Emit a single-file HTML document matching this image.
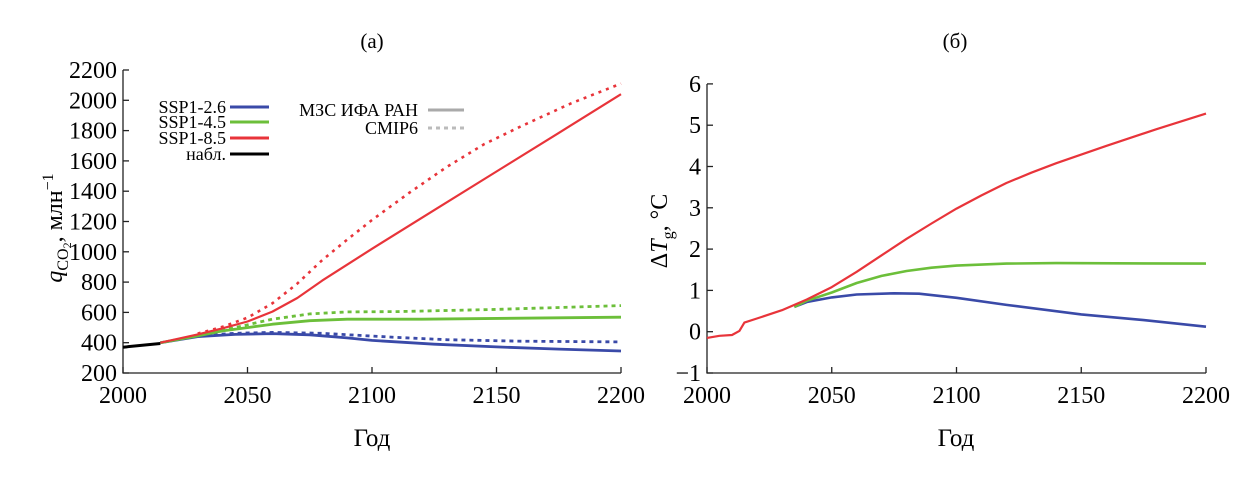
<!DOCTYPE html>
<html><head><meta charset="utf-8"><style>
html,body{margin:0;padding:0;background:#fff;}
svg{display:block;font-family:"Liberation Serif",serif;}
</style></head><body>
<svg id="s" width="1259" height="481" viewBox="0 0 1259 481" xmlns="http://www.w3.org/2000/svg">
<text x="372" y="48" font-size="21" text-anchor="middle">(a)</text>
<text x="955" y="48" font-size="21" text-anchor="middle">(б)</text>
<g id="L" stroke="#222" stroke-width="1.3" fill="none"></g>
<g id="R" stroke="#222" stroke-width="1.3" fill="none"></g>
<g font-size="24" id="T"></g>
<text x="372" y="446" font-size="25" text-anchor="middle">Год</text>
<text x="956" y="446" font-size="25" text-anchor="middle">Год</text>
<text transform="translate(62,228) rotate(-90)" font-size="24" text-anchor="middle"><tspan font-style="italic">q</tspan><tspan font-size="16" dy="6">CO</tspan><tspan font-size="12" dy="3">2</tspan><tspan dy="-9">, млн</tspan><tspan font-size="16" dy="-9">−1</tspan></text>
<text transform="translate(667,231) rotate(-90)" font-size="24" text-anchor="middle">Δ<tspan font-style="italic">T</tspan><tspan font-size="16" dy="6">g</tspan><tspan dy="-6">, °C</tspan></text>
<g font-size="18" text-anchor="end">
<text x="226" y="113">SSP1-2.6</text>
<text x="226" y="128">SSP1-4.5</text>
<text x="226" y="144">SSP1-8.5</text>
<text x="226" y="160">набл.</text>
<text x="418" y="116">МЗС ИФА РАН</text>
<text x="418" y="134">CMIP6</text>
</g>
<g stroke-width="3">
<line x1="230" y1="107" x2="269" y2="107" stroke="#3a4aa8"/>
<line x1="230" y1="122" x2="269" y2="122" stroke="#6cbf3a"/>
<line x1="230" y1="138" x2="269" y2="138" stroke="#e8343a"/>
<line x1="230" y1="154" x2="269" y2="154" stroke="#000"/>
<line x1="428" y1="110" x2="464" y2="110" stroke="#aaa"/>
<line x1="428" y1="128" x2="464" y2="128" stroke="#bbb" stroke-dasharray="4,4"/>
</g>
<g id="C" fill="none" stroke-linejoin="round"></g>
</svg>
<script>
var NS="http://www.w3.org/2000/svg",s=document.getElementById('s');
function el(p,t,a,txt){var e=document.createElementNS(NS,t);for(var k in a)e.setAttribute(k,a[k]);if(txt!==undefined)e.textContent=txt;document.getElementById(p).appendChild(e);return e;}
var lx=function(y){return 123+(y-2000)*2.49},ly=function(v){return 373-(v-200)*0.1515};
var rx=function(y){return 707+(y-2000)*2.495},ry=function(v){return 373-(v+1)*41.3};
el('L','path',{d:'M123,70 L123,373 L621,373'});
for(var v=200;v<=2200;v+=200){var y=ly(v);el('L','line',{x1:123,y1:y,x2:129,y2:y});el('T','text',{x:117,y:y+8,'text-anchor':'end'},v);}
for(var yr=2000;yr<=2200;yr+=50){var x=lx(yr);el('L','line',{x1:x,y1:373,x2:x,y2:367});el('T','text',{x:x,y:403,'text-anchor':'middle'},yr);}
el('R','path',{d:'M707,84 L707,373 L1206,373'});
for(var v=-1;v<=6;v++){var y=ry(v);el('R','line',{x1:707,y1:y,x2:713,y2:y});el('T','text',{x:701,y:y+8,'text-anchor':'end'},v<0?'−1':v);}
for(var yr=2000;yr<=2200;yr+=50){var x=rx(yr);el('R','line',{x1:x,y1:373,x2:x,y2:367});el('T','text',{x:x,y:403,'text-anchor':'middle'},yr);}
function line(pts,fx,fy,col,w,dash){var d=pts.map(function(p,i){return (i?'L':'M')+fx(p[0]).toFixed(1)+','+fy(p[1]).toFixed(1)}).join(' ');var a={d:d,stroke:col,'stroke-width':w};if(dash)a['stroke-dasharray']=dash;el('C','path',a);}
var B='#3a4aa8',G='#6cbf3a',Rd='#e8343a';
line([[2015,400],[2030,440],[2045,455],[2060,460],[2075,452],[2090,432],[2100,415],[2125,390],[2150,372],[2175,358],[2200,345]],lx,ly,B,2.8);
line([[2030,445],[2045,462],[2060,468],[2080,462],[2095,448],[2110,435],[2130,420],[2160,410],[2200,405]],lx,ly,B,2.8,'4,4');
line([[2015,400],[2030,445],[2040,478],[2050,500],[2060,522],[2075,545],[2090,555],[2120,555],[2200,568]],lx,ly,G,2.8);
line([[2030,450],[2045,500],[2060,555],[2075,590],[2090,603],[2110,605],[2150,620],[2200,645]],lx,ly,G,2.8,'4,4');
line([[2015,400],[2030,455],[2040,495],[2050,540],[2060,605],[2070,695],[2080,810],[2090,915],[2100,1020],[2125,1275],[2150,1530],[2175,1785],[2200,2040]],lx,ly,Rd,2.2);
line([[2030,460],[2040,505],[2050,565],[2060,660],[2070,790],[2080,945],[2090,1080],[2100,1210],[2115,1390],[2130,1560],[2145,1710],[2160,1830],[2180,1980],[2200,2110]],lx,ly,Rd,2.6,'3,5');
line([[2000,370],[2015,395]],lx,ly,'#000',3);
line([[2035,0.6],[2040,0.72],[2050,0.83],[2060,0.9],[2075,0.93],[2085,0.92],[2100,0.82],[2120,0.65],[2150,0.42],[2175,0.28],[2200,0.12]],rx,ry,B,2.6);
line([[2035,0.6],[2040,0.75],[2050,0.95],[2060,1.18],[2070,1.35],[2080,1.47],[2090,1.55],[2100,1.6],[2120,1.65],[2140,1.66],[2200,1.65]],rx,ry,G,2.6);
line([[2000,-0.15],[2005,-0.1],[2010,-0.08],[2013,0.02],[2015,0.22],[2020,0.32],[2030,0.52],[2040,0.78],[2050,1.08],[2060,1.45],[2070,1.85],[2080,2.25],[2090,2.62],[2100,2.98],[2110,3.3],[2120,3.6],[2130,3.85],[2140,4.08],[2160,4.5],[2180,4.9],[2200,5.28]],rx,ry,Rd,2.2);
</script>
</body></html>
